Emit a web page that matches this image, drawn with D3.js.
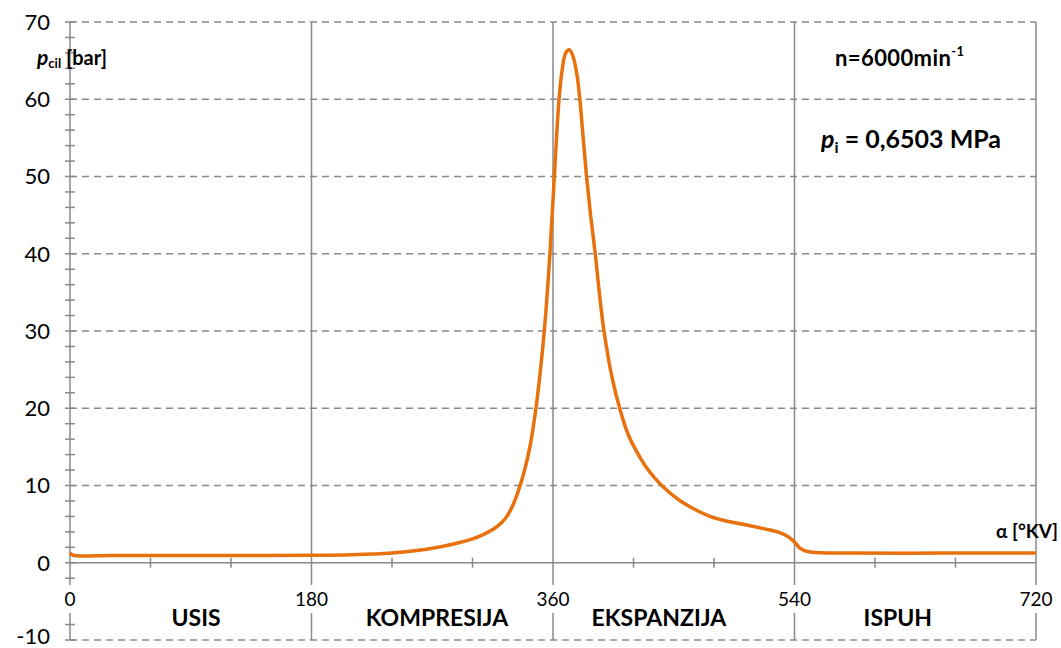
<!DOCTYPE html>
<html lang="hr">

<head>
	<meta charset="utf-8">
	<title> Tlak u cilindru </title>
	<script src="https://d3js.org/d3.v7.min.js"></script>
	<style type="text/css">
		body { margin: 0; background: #fff; }
		svg text { font-family: Lato, "Open Sans", sans-serif; fill: #000; }
	</style>
</head>

<body>
	<script type="text/javascript">

	// data: crank angle [deg] and cylinder pressure [bar]
	var alpha = [0, 2, 30, 60, 90, 120, 150, 180, 210, 240, 257, 271, 285, 300, 308, 316, 322, 326, 330, 334, 339, 343, 347,
		351, 354, 357.7, 361, 364.5, 367, 369.5, 372.2, 375, 378, 380, 382.5, 385, 388, 391.5, 394.5, 398, 404, 410,
		416, 423, 431, 441, 455, 477, 492, 507, 520, 529, 535, 538, 541, 544, 548, 552, 559, 580, 650, 720]
	var pCil = [1.3, 1.0, 0.95, 0.95, 0.95, 0.95, 0.95, 0.97, 1.05, 1.27, 1.55, 1.9, 2.4, 3.1, 3.65, 4.4, 5.25, 6.1, 7.4, 9.2, 12.1, 15.2, 19.6,
		25.5, 31, 40, 50, 60, 64, 66, 66.4, 65.5, 63, 60, 55, 50, 45, 40, 35, 30, 24, 19.8,
		16.6, 14.2, 12, 10, 8, 6.0, 5.3, 4.8, 4.3, 3.9, 3.4, 3.0, 2.5, 1.9, 1.55, 1.4, 1.3, 1.25, 1.25, 1.25]

	// axis ticks
	var xTicks = [0, 180, 360, 540, 720]
	var yTicks = [-10, 0, 10, 20, 30, 40, 50, 60, 70]

	// stroke phases
	var phases = ["USIS", "KOMPRESIJA", "EKSPANZIJA", "ISPUH"]
	var phaseAngle = [94, 273.5, 439, 617]

	var w = 1061
	var h = 648
	var grey = "#898989"

	var xScale = d3.scaleLinear().domain([0, 720]).range([70, 1036])
	var yScale = d3.scaleLinear().domain([-10, 70]).range([640, 22])

	var svg = d3.select("body")
				.append("svg")
				.attr("width", w)
				.attr("height", h)

	// horizontal dashed grid
	svg.append("g")
		.selectAll("line")
		.data(yTicks.filter(d => d != 0))
		.enter()
		.append("line")
		.attr("x1", xScale(0))
		.attr("x2", xScale(720))
		.attr("y1", d => yScale(d))
		.attr("y2", d => yScale(d))
		.attr("stroke", grey)
		.attr("stroke-width", 1.5)
		.attr("stroke-dasharray", "7,5")

	// vertical solid lines at 0, 180, 360, 540, 720
	svg.append("g")
		.selectAll("line")
		.data(xTicks)
		.enter()
		.append("line")
		.attr("x1", d => xScale(d))
		.attr("x2", d => xScale(d))
		.attr("y1", yScale(70))
		.attr("y2", yScale(-10))
		.attr("stroke", grey)
		.attr("stroke-width", 1.5)

	// x axis line at p = 0
	svg.append("line")
		.attr("x1", xScale(0))
		.attr("x2", xScale(720))
		.attr("y1", yScale(0))
		.attr("y2", yScale(0))
		.attr("stroke", grey)
		.attr("stroke-width", 1.5)

	// minor ticks crossing the y axis
	svg.append("g")
		.selectAll("line")
		.data(d3.range(-10, 70.1, 2))
		.enter()
		.append("line")
		.attr("x1", xScale(0) - 5)
		.attr("x2", xScale(0) + 5)
		.attr("y1", d => yScale(d))
		.attr("y2", d => yScale(d))
		.attr("stroke", grey)
		.attr("stroke-width", 1.5)

	// minor ticks crossing the x axis
	svg.append("g")
		.selectAll("line")
		.data(d3.range(60, 720, 60).filter(d => d % 180 != 0))
		.enter()
		.append("line")
		.attr("x1", d => xScale(d))
		.attr("x2", d => xScale(d))
		.attr("y1", yScale(0) - 5)
		.attr("y2", yScale(0) + 5)
		.attr("stroke", grey)
		.attr("stroke-width", 1.5)

	// y tick labels
	svg.append("g")
		.selectAll("text")
		.data(yTicks)
		.enter()
		.append("text")
		.attr("x", 50)
		.attr("y", d => yScale(d))
		.attr("dy", d => d == -10 ? "0.18em" : "0.36em")
		.attr("text-anchor", "end")
		.style("font-size", "22px")
		.text(d => d)

	// x tick labels, white box behind so the vertical line is broken
	var xLab = svg.append("g")
		.selectAll("g")
		.data(xTicks)
		.enter()
		.append("g")
		.attr("transform", d => "translate(" + xScale(d) + ",599)")
	xLab.append("rect")
		.attr("x", d => d == 0 ? -8 : -19)
		.attr("width", d => d == 0 ? 16 : 38)
		.attr("y", -14)
		.attr("height", 28)
		.attr("fill", "#fff")
	xLab.append("text")
		.attr("text-anchor", "middle")
		.attr("dy", "0.36em")
		.style("font-size", "19px")
		.text(d => d)

	// phase names
	svg.append("g")
		.selectAll("text")
		.data(phases)
		.enter()
		.append("text")
		.attr("x", (d, i) => xScale(phaseAngle[i]))
		.attr("y", 626)
		.attr("text-anchor", "middle")
		.style("font-size", "23px")
		.style("font-weight", "bold")
		.text(d => d)

	// pressure curve
	var line = d3.line()
		.x((d, i) => xScale(alpha[i]))
		.y(d => yScale(d))
		.curve(d3.curveCatmullRom.alpha(0.5))

	svg.append("path")
		.datum(pCil)
		.attr("d", line)
		.attr("fill", "none")
		.attr("stroke", "#E8710E")
		.attr("stroke-width", 3.5)

	// axis titles
	var yt = svg.append("text")
		.attr("x", 37)
		.attr("y", 65)
		.style("font-weight", "bold")
	yt.append("tspan").text("p").style("font-style", "italic").style("font-size", "21px")
	yt.append("tspan").text("cil").style("font-size", "13px").attr("dy", 3)
	yt.append("tspan").text(" [bar]").style("font-size", "20px").attr("dy", -3)

	svg.append("text")
		.attr("x", 1058)
		.attr("y", 538)
		.attr("text-anchor", "end")
		.style("font-size", "19px")
		.style("font-weight", "bold")
		.text("α [°KV]")

	// info texts top right
	var nt = svg.append("text")
		.attr("x", 835)
		.attr("y", 66)
		.style("font-weight", "bold")
		.style("font-size", "22px")
		.style("letter-spacing", "0.4px")
	nt.append("tspan").text("n=6000min")
	nt.append("tspan").text("-1").style("font-size", "13px").attr("dy", -10)

	var pt = svg.append("text")
		.attr("x", 821)
		.attr("y", 148)
		.style("font-weight", "bold")
		.style("font-size", "25px")
	pt.append("tspan").text("p").style("font-style", "italic")
	pt.append("tspan").text("i").style("font-size", "16px").attr("dy", 5)
	pt.append("tspan").text(" = 0,6503 MPa").attr("dy", -5)

	</script>
</body>
</html>
